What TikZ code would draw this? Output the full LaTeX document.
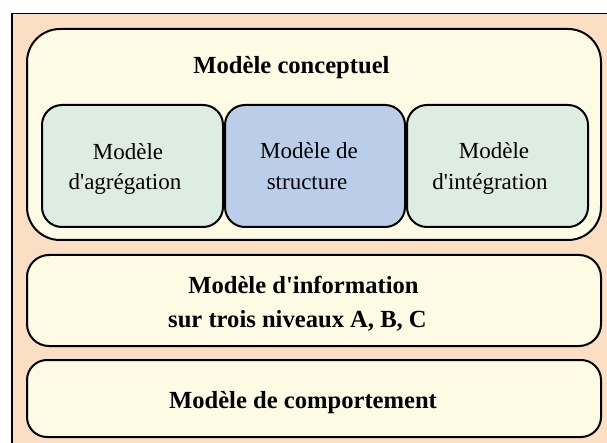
\documentclass[tikz,border=0pt]{standalone}
\usepackage{fontspec}
\setmainfont{Liberation Serif}[Ligatures=TeXOff]
\definecolor{peach}{HTML}{FCDFC3}
\definecolor{cream}{HTML}{FEFBE5}
\definecolor{mint}{HTML}{DDEDE1}
\definecolor{skyb}{HTML}{BACEEA}
\begin{document}
\begin{tikzpicture}[x=1pt,y=-1pt,
  box/.style={draw=black,line width=2pt,inner sep=0pt,outer sep=0pt},
  reg/.style={font=\fontsize{23}{28}\selectfont,anchor=base,inner sep=0pt},
  bld/.style={font=\fontsize{24.6}{29}\selectfont\bfseries,anchor=base,inner sep=0pt}]
\useasboundingbox (0,0) rectangle (607,443);
\fill[white] (0,0) rectangle (607,443);
\node[draw=black,line width=1.5pt,fill=peach,inner sep=0pt,minimum width=620pt,minimum height=450pt,anchor=north west] (bg) at (11,13) {};
% conceptual
\node[box,fill=cream,rounded corners=33pt,minimum width=574pt,minimum height=211pt] (concept) at (314,134.5) {};
\node[bld] (ctitle) at (291.5,74) {Modèle conceptuel};
\node[box,fill=mint,rounded corners=20pt,minimum width=181pt,minimum height=122pt] (agr) at (132.5,166) {};
\node[box,fill=skyb,rounded corners=20pt,minimum width=180pt,minimum height=122pt] (str) at (315,166) {};
\node[box,fill=mint,rounded corners=20pt,minimum width=181pt,minimum height=122pt] (int) at (497.5,166) {};
\node[reg] (agrA) at (128,160) {Modèle};
\node[reg] (agrB) at (125,190) {d'agrégation};
\node[reg] (strA) at (309,159) {Modèle de};
\node[reg] (strB) at (307,190) {structure};
\node[reg] (intA) at (494,159) {Modèle};
\node[reg] (intB) at (490,190) {d'intégration};
% information
\node[box,fill=cream,rounded corners=22pt,minimum width=574pt,minimum height=91pt] (info) at (314,300.5) {};
\node[bld] (infoA) at (303.5,294) {Modèle d'information};
\node[bld] (infoB) at (297.5,327) {sur trois niveaux A, B, C};
% comportement
\node[box,fill=cream,rounded corners=20pt,minimum width=574pt,minimum height=77pt] (comp) at (314,398.5) {};
\node[bld] (compA) at (303,408) {Modèle de comportement};
\end{tikzpicture}
\end{document}
